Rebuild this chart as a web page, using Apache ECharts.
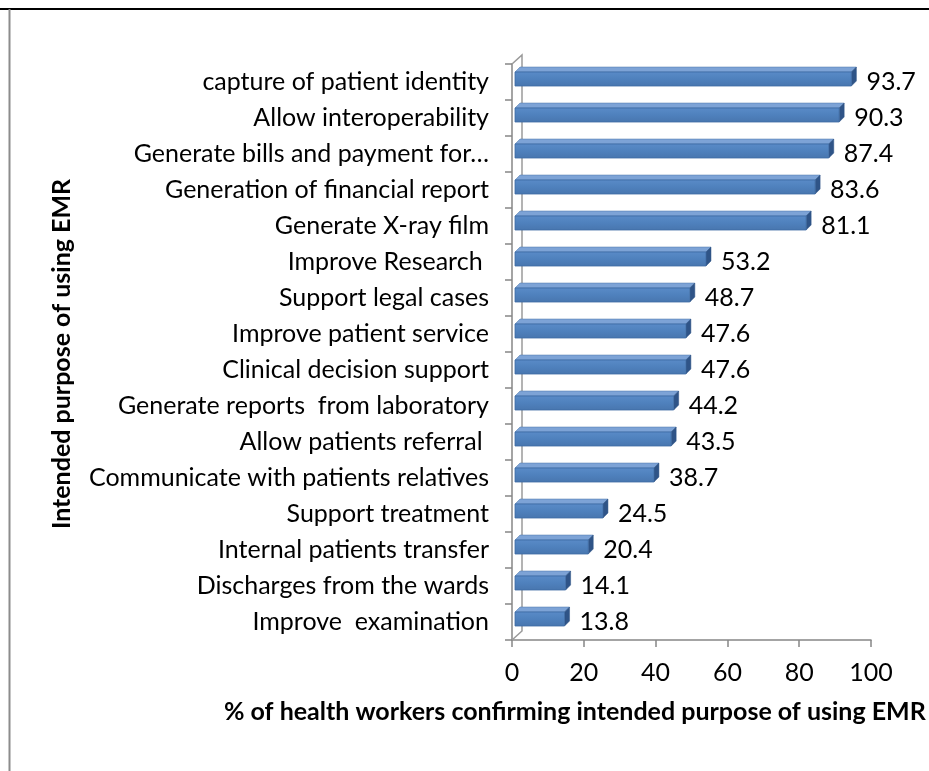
<!DOCTYPE html>
<html>
<head>
<meta charset="utf-8">
<style>
  html, body { margin: 0; padding: 0; background: #fff; }
  #main { width: 929px; height: 771px; }
</style>
<script src="https://cdn.jsdelivr.net/npm/echarts@6/dist/echarts.min.js"></script>
</head>
<body>
<div id="main"></div>
<script>
// categories top -> bottom
const categories = [
  'capture of patient identity',
  'Allow interoperability',
  'Generate bills and payment for…',
  'Generation of financial report',
  'Generate X-ray film',
  'Improve Research ',
  'Support legal cases',
  'Improve patient service',
  'Clinical decision support',
  'Generate reports  from laboratory',
  'Allow patients referral ',
  'Communicate with patients relatives',
  'Support treatment',
  'Internal patients transfer',
  'Discharges from the wards',
  'Improve  examination'
]
const values = [93.7, 90.3, 87.4, 83.6, 81.1, 53.2, 48.7, 47.6, 47.6, 44.2, 43.5, 38.7, 24.5, 20.4, 14.1, 13.8]
const xTicks = { min: 0, max: 100, interval: 20 }

const FONT = 'Lato, "Open Sans", sans-serif'
const FS = 25
const grid = { left: 512, top: 64, right: 58, bottom: 131 }
const W = 929
const H = 771
const gBottom = H - grid.bottom
const wall = { dx: 10, dy: 9 }

// 3d bar like excel
function renderBar(params, api) {
  const v = api.value(0)
  const i = api.value(1)
  const p0 = api.coord([0, i])
  const p1 = api.coord([v, i])
  const h = 14, d = 5, dy = 5, sx = 3, sy = -3
  const x0 = p0[0] + sx
  const x1 = p1[0] + sx
  const yc = p0[1] + sy
  const yt = yc - h / 2
  const yb = yc + h / 2
  return {
    type: 'group',
    children: [
      {
        type: 'polygon',
        shape: { points: [[x0, yt], [x0 + d, yt - dy], [x1 + d, yt - dy], [x1, yt]] },
        style: { fill: '#7DA3D6', stroke: '#4A74A8', lineWidth: 0.5 }
      },
      {
        type: 'polygon',
        shape: { points: [[x1, yt], [x1 + d, yt - dy], [x1 + d, yb - dy], [x1, yb]] },
        style: { fill: '#2F5487', stroke: '#2F5487', lineWidth: 0.5 }
      },
      {
        type: 'rect',
        shape: { x: x0, y: yt, width: x1 - x0, height: h },
        style: {
          fill: new echarts.graphic.LinearGradient(0, 0, 0, 1, [
            { offset: 0, color: '#5A8BC8' },
            { offset: 0.5, color: '#4F81BD' },
            { offset: 1, color: '#4876AE' }
          ]),
          stroke: '#3E6BA3',
          lineWidth: 0.8
        }
      },
      {
        type: 'text',
        style: {
          text: String(v),
          x: x1 + 15,
          y: p0[1],
          textAlign: 'left',
          textVerticalAlign: 'middle',
          fontFamily: FONT,
          fontSize: FS,
          fill: '#000'
        }
      }
    ]
  }
}

const chart = echarts.init(document.getElementById('main'))

chart.setOption({
  backgroundColor: '#fff',
  animation: false,
  grid: grid,
  xAxis: {
    type: 'value',
    min: xTicks.min,
    max: xTicks.max,
    interval: xTicks.interval,
    splitLine: { show: false },
    axisLine: { show: true, lineStyle: { color: '#868686', width: 1.5 } },
    axisTick: { show: true, length: 7, lineStyle: { color: '#868686', width: 1.5 } },
    axisLabel: { color: '#000', fontFamily: FONT, fontSize: FS, margin: 20 }
  },
  yAxis: {
    type: 'category',
    inverse: true,
    data: categories,
    axisLine: { show: true, lineStyle: { color: '#868686', width: 1.5 } },
    axisTick: { show: true, length: 7, lineStyle: { color: '#868686', width: 1.5 } },
    axisLabel: { color: '#000', fontFamily: FONT, fontSize: FS, margin: 23 }
  },
  series: [{
    type: 'custom',
    renderItem: renderBar,
    encode: { x: 0, y: 1 },
    data: values.map((v, i) => [v, i]),
    z: 3
  }],
  graphic: [
    // frame
    { type: 'line', shape: { x1: 0, y1: 9, x2: W, y2: 9 }, style: { stroke: '#000', lineWidth: 2 } },
    { type: 'line', shape: { x1: 9.5, y1: 9, x2: 9.5, y2: H }, style: { stroke: '#8c8c8c', lineWidth: 2 } },
    { type: 'text', left: 8, top: -13, style: { text: 'AS', fill: '#e03030', font: 'bold 16px ' + FONT } },
    // back wall of the 3d plot
    {
      type: 'polyline',
      shape: { points: [
        [grid.left, grid.top], [grid.left + wall.dx, grid.top - wall.dy],
        [grid.left + wall.dx, gBottom - wall.dy], [grid.left, gBottom]
      ] },
      style: { stroke: '#9a9a9a', lineWidth: 1.5, fill: null },
      z: 1
    },
    // axis titles
    {
      type: 'text',
      x: 62,
      y: (grid.top + gBottom) / 2 + 2,
      rotation: Math.PI / 2,
      style: {
        text: 'Intended purpose of using EMR',
        textAlign: 'center',
        textVerticalAlign: 'middle',
        font: 'bold 25px ' + FONT,
        fill: '#000'
      }
    },
    {
      type: 'text',
      x: 224,
      y: 712,
      style: {
        text: '% of health workers confirming intended purpose of using EMR',
        textAlign: 'left',
        textVerticalAlign: 'middle',
        font: 'bold 25px ' + FONT,
        fill: '#000'
      }
    }
  ]
})
</script>
</body>
</html>
